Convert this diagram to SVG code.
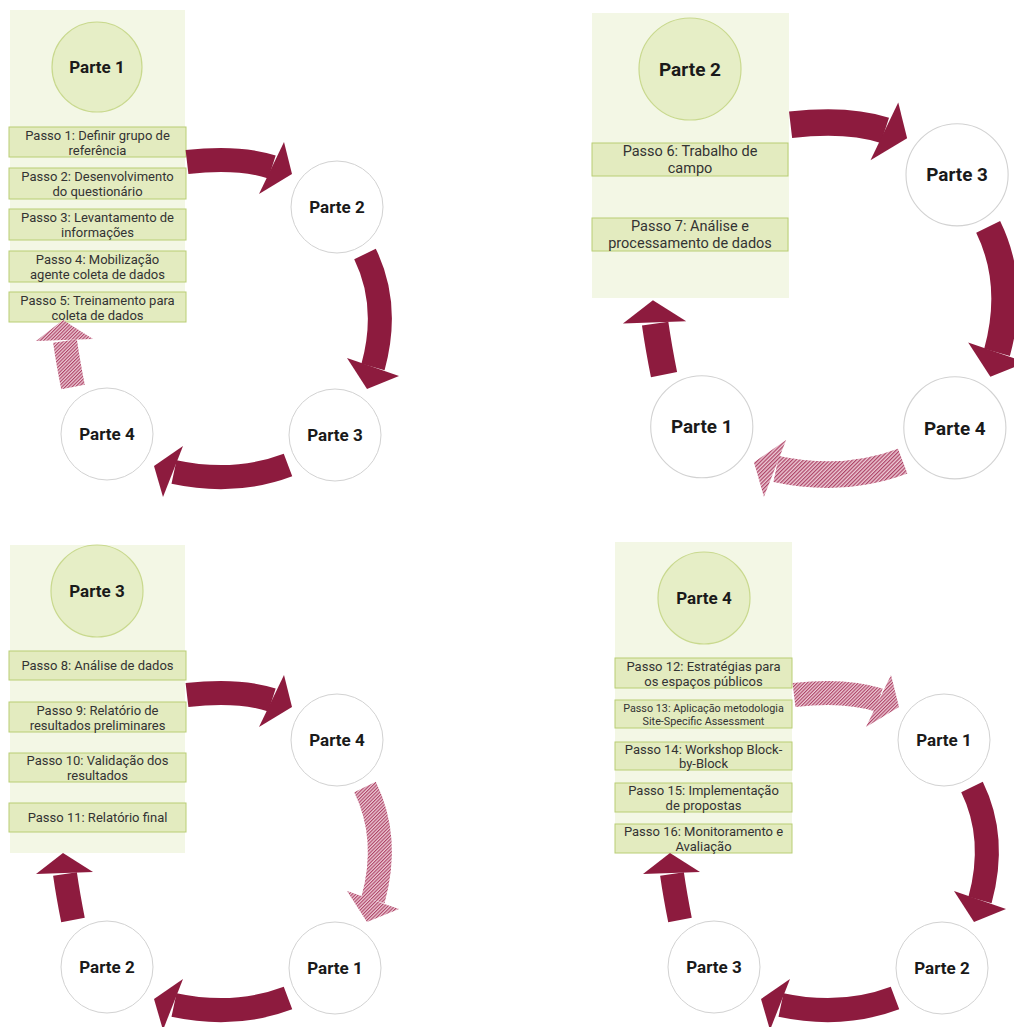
<svg xmlns="http://www.w3.org/2000/svg" width="1014" height="1027" viewBox="0 0 1014 1027">
<defs>
<pattern id="hatch" width="2.4" height="2.4" patternUnits="userSpaceOnUse" patternTransform="rotate(45)">
<rect width="2.4" height="2.4" fill="#eccad5"/>
<rect width="1.1" height="2.4" fill="#ad4266"/>
</pattern>
<style>
.panel{fill:#f3f7e5;stroke:none}
.gc{fill:#e6eec6;stroke:#c9d98e;stroke-width:1.2}
.wc{fill:#ffffff;stroke:#d2d2d2;stroke-width:1}
.box{fill:#e3ebbf;stroke:#b9ce74;stroke-width:1}
.pt{font-family:Roboto,"Liberation Sans",sans-serif;font-weight:bold;font-size:17px;fill:#1a1a1a;text-anchor:middle}
.bt{font-family:Roboto,"Liberation Sans",sans-serif;font-size:13px;fill:#333333;text-anchor:middle}
.bt2{font-family:Roboto,"Liberation Sans",sans-serif;font-size:14.5px;fill:#333333;text-anchor:middle}
.bts{font-family:Roboto,"Liberation Sans",sans-serif;font-size:10.8px;fill:#333333;text-anchor:middle}
.band{fill:none;stroke:#8d1b3e;stroke-width:24}
.head{fill:#8d1b3e}
.hband{fill:none;stroke:url(#hatch);stroke-width:24}
.hhead{fill:url(#hatch)}
</style>
</defs>
<rect width="1014" height="1027" fill="#ffffff"/>

<!-- Quadrant 1 -->
<g id="q1">
<rect class="panel" x="10" y="10" width="175" height="312"/>
<g id="q1-parte1"><circle class="gc" cx="97" cy="67" r="45"/><text class="pt" x="97" y="73">Parte 1</text></g>
<g id="passo1"><rect class="box" x="9" y="127" width="177" height="30"/><text class="bt" x="97.5" y="139.5">Passo 1: Definir grupo de</text><text class="bt" x="97.5" y="154.5">referência</text></g>
<g id="passo2"><rect class="box" x="9" y="168" width="177" height="31"/><text class="bt" x="97.5" y="181">Passo 2: Desenvolvimento</text><text class="bt" x="97.5" y="196">do questionário</text></g>
<g id="passo3"><rect class="box" x="9" y="209" width="177" height="31"/><text class="bt" x="97.5" y="222">Passo 3: Levantamento de</text><text class="bt" x="97.5" y="237">informações</text></g>
<g id="passo4"><rect class="box" x="9" y="251" width="177" height="31"/><text class="bt" x="97.5" y="264">Passo 4: Mobilização</text><text class="bt" x="97.5" y="279">agente coleta de dados</text></g>
<g id="passo5"><rect class="box" x="9" y="292" width="177" height="30"/><text class="bt" x="97.5" y="304.5">Passo 5: Treinamento para</text><text class="bt" x="97.5" y="319.5">coleta de dados</text></g>
<g id="q1-parte2"><circle class="wc" cx="337" cy="207" r="46"/><text class="pt" x="337" y="213">Parte 2</text></g>
<g id="q1-parte3"><circle class="wc" cx="335" cy="435" r="46"/><text class="pt" x="335" y="441">Parte 3</text></g>
<g id="q1-parte4"><circle class="wc" cx="107" cy="434" r="46"/><text class="pt" x="107" y="440">Parte 4</text></g>
</g>

<!-- Quadrant 2 -->
<g id="q2">
<rect class="panel" x="592" y="13" width="197" height="285"/>
<g id="q2-parte2"><circle class="gc" cx="690" cy="69" r="51"/><text class="pt" x="690" y="76" style="font-size:19px">Parte 2</text></g>
<g id="passo6"><rect class="box" x="592" y="143" width="196" height="33"/><text class="bt2" x="690" y="156">Passo 6: Trabalho de</text><text class="bt2" x="690" y="173">campo</text></g>
<g id="passo7"><rect class="box" x="592" y="218" width="196" height="33"/><text class="bt2" x="690" y="231">Passo 7: Análise e</text><text class="bt2" x="690" y="248">processamento de dados</text></g>
<g transform="translate(583,-55) scale(1.11)">
<g id="q2-parte3"><circle class="wc" cx="337" cy="207" r="46"/><text class="pt" x="337" y="213">Parte 3</text></g>
<g id="q2-parte4"><circle class="wc" cx="335" cy="435" r="46"/><text class="pt" x="335" y="441">Parte 4</text></g>
<g id="q2-parte1"><circle class="wc" cx="107" cy="434" r="46"/><text class="pt" x="107" y="440">Parte 1</text></g>
</g>
</g>

<!-- Quadrant 3 -->
<g id="q3">
<rect class="panel" x="10" y="545" width="175" height="308"/>
<g id="q3-parte3"><circle class="gc" cx="97" cy="591" r="46"/><text class="pt" x="97" y="597">Parte 3</text></g>
<g id="passo8"><rect class="box" x="9" y="651" width="177" height="29"/><text class="bt" x="97.5" y="670">Passo 8: Análise de dados</text></g>
<g id="passo9"><rect class="box" x="9" y="702" width="177" height="30"/><text class="bt" x="97.5" y="714.5">Passo 9: Relatório de</text><text class="bt" x="97.5" y="729.5">resultados preliminares</text></g>
<g id="passo10"><rect class="box" x="9" y="753" width="177" height="29"/><text class="bt" x="97.5" y="765">Passo 10: Validação dos</text><text class="bt" x="97.5" y="780">resultados</text></g>
<g id="passo11"><rect class="box" x="9" y="803" width="177" height="29"/><text class="bt" x="97.5" y="822">Passo 11: Relatório final</text></g>
<g transform="translate(0,533)">
<g id="q3-parte4"><circle class="wc" cx="337" cy="207" r="46"/><text class="pt" x="337" y="213">Parte 4</text></g>
<g id="q3-parte1"><circle class="wc" cx="335" cy="435" r="46"/><text class="pt" x="335" y="441">Parte 1</text></g>
<g id="q3-parte2"><circle class="wc" cx="107" cy="434" r="46"/><text class="pt" x="107" y="440">Parte 2</text></g>
</g>
</g>

<!-- Quadrant 4 -->
<g id="q4">
<rect class="panel" x="615" y="542" width="177" height="311"/>
<g id="q4-parte4"><circle class="gc" cx="704" cy="598" r="46"/><text class="pt" x="704" y="604">Parte 4</text></g>
<g id="passo12"><rect class="box" x="615" y="658" width="177" height="30"/><text class="bt" x="703.5" y="670.5">Passo 12: Estratégias para</text><text class="bt" x="703.5" y="685.5">os espaços públicos</text></g>
<g id="passo13"><rect class="box" x="615" y="700" width="177" height="28"/><text class="bts" x="703.5" y="712">Passo 13: Aplicação metodologia</text><text class="bts" x="703.5" y="724.5">Site-Specific Assessment</text></g>
<g id="passo14"><rect class="box" x="615" y="742" width="177" height="28"/><text class="bt" x="703.5" y="753.5">Passo 14: Workshop Block-</text><text class="bt" x="703.5" y="768">by-Block</text></g>
<g id="passo15"><rect class="box" x="615" y="783" width="177" height="29"/><text class="bt" x="703.5" y="795">Passo 15: Implementação</text><text class="bt" x="703.5" y="810">de propostas</text></g>
<g id="passo16"><rect class="box" x="615" y="824" width="177" height="29"/><text class="bt" x="703.5" y="836">Passo 16: Monitoramento e</text><text class="bt" x="703.5" y="851">Avaliação</text></g>
<g transform="translate(607,533)">
<g id="q4-parte1"><circle class="wc" cx="337" cy="207" r="46"/><text class="pt" x="337" y="213">Parte 1</text></g>
<g id="q4-parte2"><circle class="wc" cx="335" cy="435" r="46"/><text class="pt" x="335" y="441">Parte 2</text></g>
<g id="q4-parte3"><circle class="wc" cx="107" cy="434" r="46"/><text class="pt" x="107" y="440">Parte 3</text></g>
</g>
</g>

<!-- Connectors -->
<g id="connectors">
<g id="q1-arrows">
<g><path class="band" d="M187,162 Q238,156 272,167"/><polygon class="head" points="284,142 292,174 259,194"/></g>
<g><path class="band" d="M365,254 Q390,305 373,367"/><polygon class="head" points="347,358 367,389 399,376"/></g>
<g><path class="band" d="M288,465 Q235,485 174,472"/><polygon class="head" points="183,446 154,466 163,497"/></g>
<g><path class="hband" d="M73,387 Q68,362 65,341"/><polygon class="hhead" points="36,341 63,320 93,339"/></g>
</g>
<g id="q2-arrows" transform="translate(583,-55) scale(1.11)">
<g><path class="band" d="M187,162 Q238,156 272,167"/><polygon class="head" points="284,142 292,174 259,194"/></g>
<g><path class="band" d="M365,254 Q390,305 373,367"/><polygon class="head" points="347,358 367,389 399,376"/></g>
<g><path class="hband" d="M288,465 Q235,485 174,472"/><polygon class="hhead" points="183,446 154,466 163,497"/></g>
<g><path class="band" d="M73,387 Q68,362 65,341"/><polygon class="head" points="36,341 63,320 93,339"/></g>
</g>
<g id="q3-arrows" transform="translate(0,533)">
<g><path class="band" d="M187,162 Q238,156 272,167"/><polygon class="head" points="284,142 292,174 259,194"/></g>
<g><path class="hband" d="M365,254 Q390,305 373,367"/><polygon class="hhead" points="347,358 367,389 399,376"/></g>
<g><path class="band" d="M288,465 Q235,485 174,472"/><polygon class="head" points="183,446 154,466 163,497"/></g>
<g><path class="band" d="M73,387 Q68,362 65,341"/><polygon class="head" points="36,341 63,320 93,339"/></g>
</g>
<g id="q4-arrows" transform="translate(607,533)">
<g><path class="hband" d="M187,162 Q238,156 272,167"/><polygon class="hhead" points="284,142 292,174 259,194"/></g>
<g><path class="band" d="M365,254 Q390,305 373,367"/><polygon class="head" points="347,358 367,389 399,376"/></g>
<g><path class="band" d="M288,465 Q235,485 174,472"/><polygon class="head" points="183,446 154,466 163,497"/></g>
<g><path class="band" d="M73,387 Q68,362 65,341"/><polygon class="head" points="36,341 63,320 93,339"/></g>
</g>
</g>
</svg>
